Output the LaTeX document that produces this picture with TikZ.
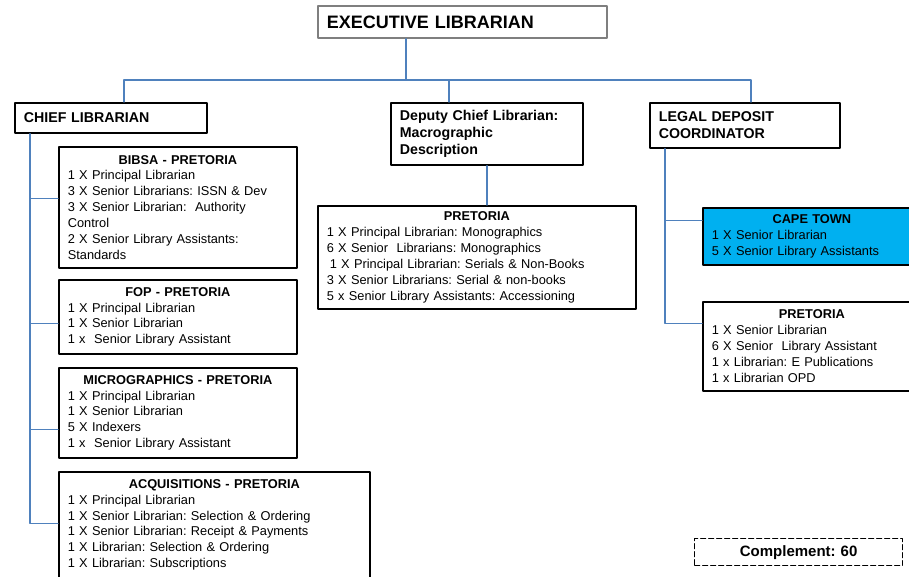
\documentclass[tikz,border=0pt]{standalone}
\usepackage{fontspec}
\setmainfont{Liberation Sans}
\usetikzlibrary{calc}
\definecolor{linkblue}{HTML}{4F81BD}
\definecolor{capeblue}{HTML}{00B0F0}
\definecolor{execgray}{HTML}{7F7F7F}
\newcommand{\unittitle}[1]{\makebox[\hsize]{\bfseries #1}}
\frenchspacing
\begin{document}
\begin{tikzpicture}[x=1pt, y=-1pt, line cap=round, line join=round, font=\fontsize{12.8}{15.9}\selectfont]
	\tikzset{box/.style={draw, line width=1.7pt, anchor=north west, align=left, inner xsep=9pt, inner ysep=0pt},
		head/.style={box, font=\fontsize{14.2}{17}\selectfont\bfseries},
		link/.style={draw=linkblue, line width=1.2pt}}
	\clip (0,0) rectangle (909,576);
	\node[box, draw=execgray, font=\fontsize{18}{20}\selectfont\bfseries, text width=271pt, minimum height=32pt] (exec) at (317,5) {EXECUTIVE LIBRARIAN};
	\node[head, text width=174pt, minimum height=30pt] (chief) at (14,102) {CHIEF LIBRARIAN};
	\node[head, text width=174pt, minimum height=62pt] (deputy) at (390,102) {Deputy Chief Librarian:\\Macrographic\\Description};
	\node[head, text width=172pt, minimum height=45pt] (legal) at (649,102) {LEGAL DEPOSIT\\COORDINATOR};
	\node[box, text width=220pt, minimum height=121pt] (bibsa) at (58,146) {\unittitle{BIBSA - PRETORIA}\\1 X Principal Librarian\\3 X Senior Librarians: ISSN \& Dev\\3 X Senior Librarian:~ Authority\\Control\\2 X Senior Library Assistants:\\Standards};
	\node[box, text width=220pt, minimum height=74pt] (fop) at (58,279) {\unittitle{FOP - PRETORIA}\\1 X Principal Librarian\\1 X Senior Librarian\\1 x~ Senior Library Assistant};
	\node[box, text width=220pt, minimum height=90pt] (micro) at (58,367) {\unittitle{MICROGRAPHICS - PRETORIA}\\1 X Principal Librarian\\1 X Senior Librarian\\5 X Indexers\\1 x~ Senior Library Assistant};
	\node[box, text width=293pt, minimum height=106pt] (acq) at (58,471) {\unittitle{ACQUISITIONS - PRETORIA}\\1 X Principal Librarian\\1 X Senior Librarian: Selection \& Ordering\\1 X Senior Librarian: Receipt \& Payments\\1 X Librarian: Selection \& Ordering\\1 X Librarian: Subscriptions};
	\node[box, text width=300pt, minimum height=103pt] (mpta) at (317,205) {\unittitle{PRETORIA}\\1 X Principal Librarian: Monographics\\6 X Senior~ Librarians: Monographics\\\hspace*{3pt}1 X Principal Librarian: Serials \& Non-Books\\3 X Senior Librarians: Serial \& non-books\\5 x Senior Library Assistants: Accessioning};
	\node[box, fill=capeblue, text width=200pt, minimum height=57pt] (cape) at (702,207) {\unittitle{CAPE TOWN}\\1 X Senior Librarian\\5 X Senior Library Assistants};
	\node[box, text width=200pt, minimum height=89pt] (rpta) at (702,301) {\unittitle{PRETORIA}\\1 X Senior Librarian\\6 X Senior~ Library Assistant\\1 x Librarian: E Publications\\1 x Librarian OPD};
	\node[box, dash pattern=on 5pt off 3pt, line width=1.3pt, align=center, font=\fontsize{15}{17}\selectfont\bfseries, text width=190pt, minimum height=27pt] (compl) at (694,538) {Complement: 60};
	\coordinate (bus) at (0,80);
	\draw[link] ([xshift=89pt]exec.south west) coordinate (e) -- (e |- bus);
	\draw[link] ([xshift=110pt]chief.north west) coordinate (a) -- (a |- bus) -| ([xshift=102pt]legal.north west);
	\draw[link] ([xshift=59pt]deputy.north west) coordinate (b) -- (b |- bus);
	\draw[link] ([xshift=97pt]deputy.south west) coordinate (d) -- (d |- mpta.north);
	\coordinate (cltop) at ([xshift=16pt]chief.south west);
	\draw[link] (cltop) |- ($(acq.north west)!.49!(acq.south west)$);
	\foreach \u/\f in {bibsa/.43, fop/.59, micro/.68}
		\draw[link] ($(\u.north west)!\f!(\u.south west)$) coordinate (p) -- (p -| cltop);
	\coordinate (ldtop) at ([xshift=16pt]legal.south west);
	\draw[link] (ldtop) |- ($(rpta.north west)!.25!(rpta.south west)$);
	\draw[link] ($(cape.north west)!.23!(cape.south west)$) coordinate (p) -- (p -| ldtop);
\end{tikzpicture}
\end{document}
